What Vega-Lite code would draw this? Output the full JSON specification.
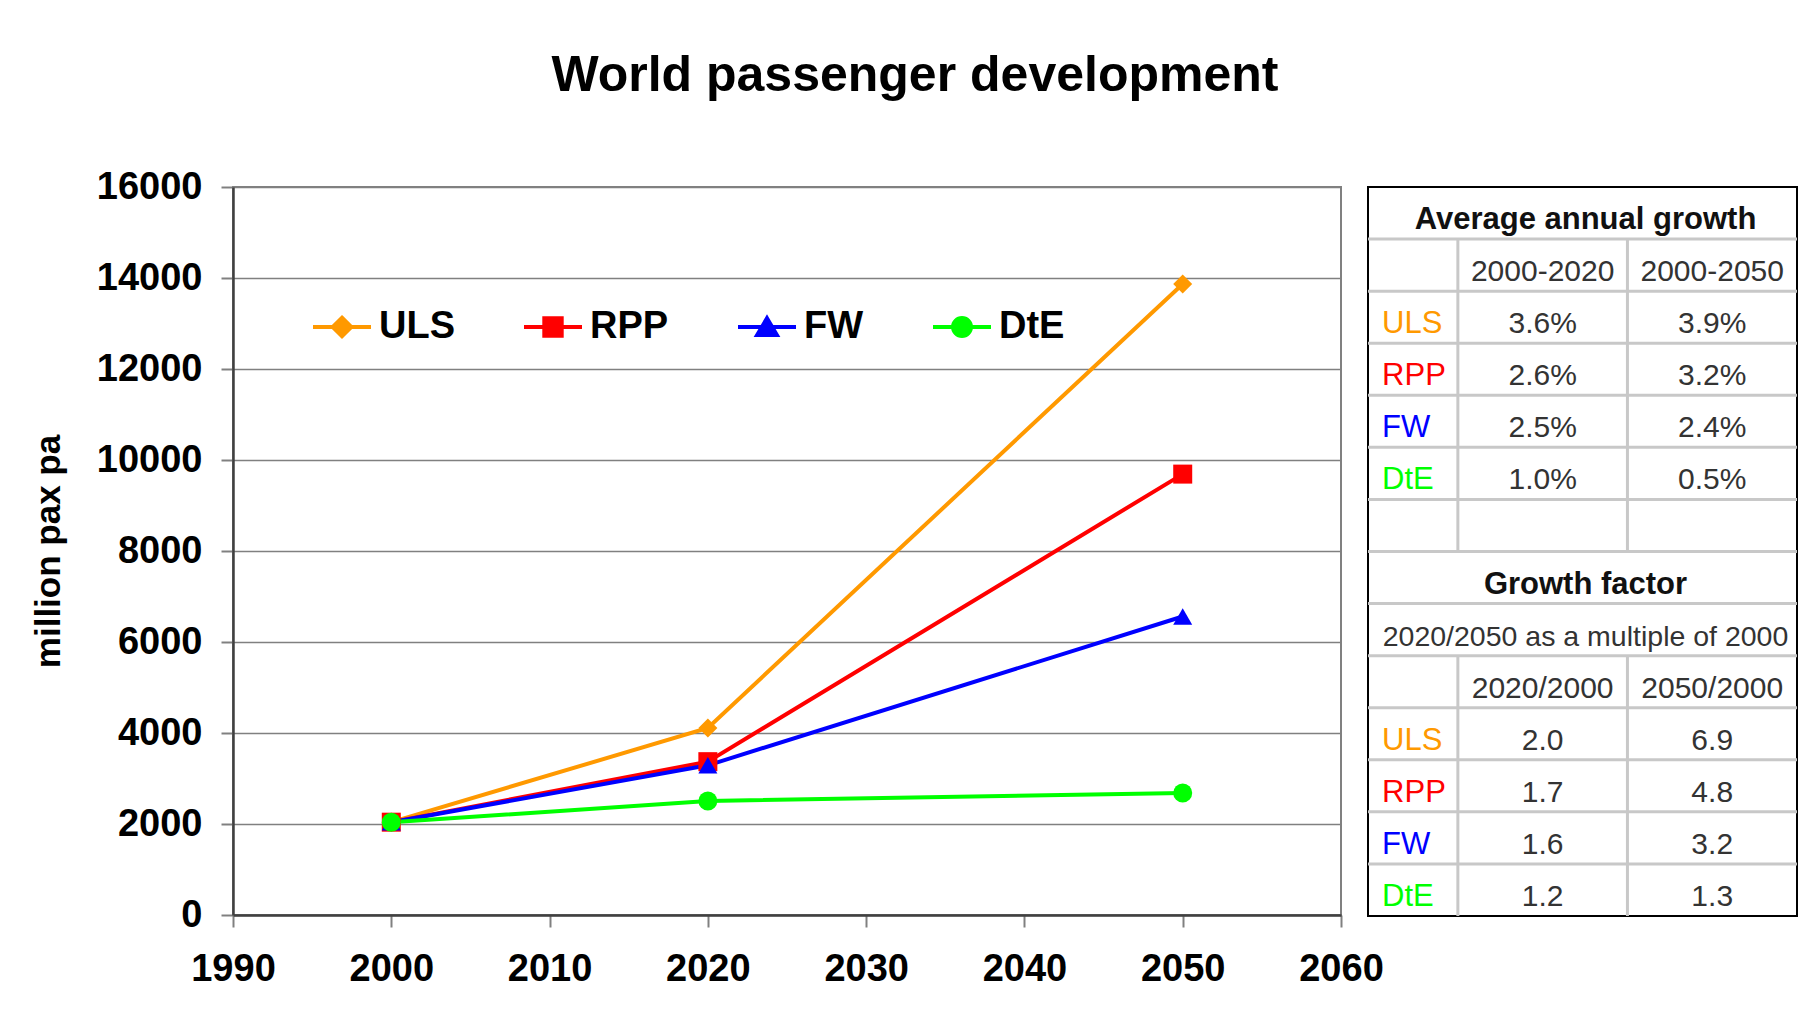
{
  "$schema": "https://vega.github.io/schema/vega-lite/v6.json",
  "autosize": {"type": "pad"},
  "padding": {"left": 30, "top": 51, "right": 19, "bottom": 29},
  "background": "white",
  "title": {
    "text": "World passenger development",
    "fontSize": 50,
    "fontWeight": "bold",
    "font": "Liberation Sans",
    "color": "#000000",
    "anchor": "middle",
    "offset": 66
  },
  "bounds": "flush",
  "spacing": 27,
  "datasets": {
    "passengers": [
      {"series": "ULS", "year": 2000, "pax": 2040},
      {"series": "ULS", "year": 2020, "pax": 4110},
      {"series": "ULS", "year": 2050, "pax": 13870},
      {"series": "RPP", "year": 2000, "pax": 2040},
      {"series": "RPP", "year": 2020, "pax": 3370},
      {"series": "RPP", "year": 2050, "pax": 9690},
      {"series": "FW", "year": 2000, "pax": 2040},
      {"series": "FW", "year": 2020, "pax": 3290},
      {"series": "FW", "year": 2050, "pax": 6560},
      {"series": "DtE", "year": 2000, "pax": 2040},
      {"series": "DtE", "year": 2020, "pax": 2505},
      {"series": "DtE", "year": 2050, "pax": 2680}
    ],
    "tableText": [
      {"row": 0, "kind": "heading", "text": "Average annual growth"},
      {"row": 1, "col": 1, "kind": "value", "text": "2000-2020"},
      {"row": 1, "col": 2, "kind": "value", "text": "2000-2050"},
      {"row": 2, "col": 0, "kind": "label", "series": "ULS", "text": "ULS"},
      {"row": 2, "col": 1, "kind": "value", "text": "3.6%"},
      {"row": 2, "col": 2, "kind": "value", "text": "3.9%"},
      {"row": 3, "col": 0, "kind": "label", "series": "RPP", "text": "RPP"},
      {"row": 3, "col": 1, "kind": "value", "text": "2.6%"},
      {"row": 3, "col": 2, "kind": "value", "text": "3.2%"},
      {"row": 4, "col": 0, "kind": "label", "series": "FW", "text": "FW"},
      {"row": 4, "col": 1, "kind": "value", "text": "2.5%"},
      {"row": 4, "col": 2, "kind": "value", "text": "2.4%"},
      {"row": 5, "col": 0, "kind": "label", "series": "DtE", "text": "DtE"},
      {"row": 5, "col": 1, "kind": "value", "text": "1.0%"},
      {"row": 5, "col": 2, "kind": "value", "text": "0.5%"},
      {"row": 7, "kind": "heading", "text": "Growth factor"},
      {"row": 8, "kind": "note", "text": "2020/2050 as a multiple of 2000"},
      {"row": 9, "col": 1, "kind": "value", "text": "2020/2000"},
      {"row": 9, "col": 2, "kind": "value", "text": "2050/2000"},
      {"row": 10, "col": 0, "kind": "label", "series": "ULS", "text": "ULS"},
      {"row": 10, "col": 1, "kind": "value", "text": "2.0"},
      {"row": 10, "col": 2, "kind": "value", "text": "6.9"},
      {"row": 11, "col": 0, "kind": "label", "series": "RPP", "text": "RPP"},
      {"row": 11, "col": 1, "kind": "value", "text": "1.7"},
      {"row": 11, "col": 2, "kind": "value", "text": "4.8"},
      {"row": 12, "col": 0, "kind": "label", "series": "FW", "text": "FW"},
      {"row": 12, "col": 1, "kind": "value", "text": "1.6"},
      {"row": 12, "col": 2, "kind": "value", "text": "3.2"},
      {"row": 13, "col": 0, "kind": "label", "series": "DtE", "text": "DtE"},
      {"row": 13, "col": 1, "kind": "value", "text": "1.2"},
      {"row": 13, "col": 2, "kind": "value", "text": "1.3"}
    ],
    "tableLines": [
      {"edge": 1}, {"edge": 2}, {"edge": 3}, {"edge": 4}, {"edge": 5}, {"edge": 6}, {"edge": 7},
      {"edge": 8}, {"edge": 9}, {"edge": 10}, {"edge": 11}, {"edge": 12}, {"edge": 13}
    ],
    "tableDividers": [
      {"edge": 0.5, "top": 1, "bottom": 7},
      {"edge": 1.5, "top": 1, "bottom": 7},
      {"edge": 0.5, "top": 9, "bottom": 14},
      {"edge": 1.5, "top": 9, "bottom": 14}
    ]
  },
  "hconcat": [
    {
      "width": 1108,
      "height": 728,
      "view": {"stroke": "#808080", "strokeWidth": 2},
      "data": {"name": "passengers"},
      "encoding": {
        "x": {
          "field": "year",
          "type": "quantitative",
          "scale": {"domain": [1990, 2060], "nice": false, "zero": false},
          "axis": {
            "values": [1990, 2000, 2010, 2020, 2030, 2040, 2050, 2060],
            "format": "d",
            "title": null,
            "grid": false,
            "labelPadding": 23,
            "labelFlush": false,
            "labelOverlap": false
          }
        },
        "y": {
          "field": "pax",
          "type": "quantitative",
          "scale": {"domain": [0, 16000], "nice": false},
          "axis": {
            "values": [0, 2000, 4000, 6000, 8000, 10000, 12000, 14000, 16000],
            "format": "d",
            "title": "million pax pa",
            "grid": true,
            "labelPadding": 19,
            "titlePadding": 30,
            "labelOverlap": false
          }
        }
      },
      "layer": [
        {
          "mark": {"type": "line", "strokeWidth": 4},
          "encoding": {
            "stroke": {
              "field": "series",
              "type": "nominal",
              "scale": {
                "domain": ["ULS", "RPP", "FW", "DtE"],
                "range": ["#ff9900", "#ff0000", "#0000ff", "#00ff00"]
              },
              "legend": null
            }
          }
        },
        {
          "mark": {"type": "point", "filled": true, "size": 361, "opacity": 1},
          "encoding": {
            "fill": {
              "field": "series",
              "type": "nominal",
              "scale": {
                "domain": ["ULS", "RPP", "FW", "DtE"],
                "range": ["#ff9900", "#ff0000", "#0000ff", "#00ff00"]
              },
              "legend": null
            },
            "shape": {
              "field": "series",
              "type": "nominal",
              "scale": {
                "domain": ["ULS", "RPP", "FW", "DtE"],
                "range": ["diamond", "square", "triangle-up", "circle"]
              },
              "legend": null
            }
          }
        },
        {
          "description": "Legend key: each series shown as its line with its marker",
          "mark": {"type": "point", "filled": true, "size": 0, "opacity": 1},
          "encoding": {
            "fill": {
              "field": "series",
              "type": "nominal",
              "scale": {
                "domain": ["ULS", "RPP", "FW", "DtE"],
                "range": ["#ff9900", "#ff0000", "#0000ff", "#00ff00"]
              },
              "legend": {
                "orient": "none",
                "legendX": 78,
                "legendY": 109,
                "direction": "horizontal",
                "title": null,
                "symbolSize": 3364,
                "symbolStrokeWidth": 4,
                "symbolOpacity": 1,
                "labelOffset": 6,
                "columnPadding": 61,
                "padding": 0
              }
            },
            "stroke": {
              "field": "series",
              "type": "nominal",
              "scale": {
                "domain": ["ULS", "RPP", "FW", "DtE"],
                "range": ["#ff9900", "#ff0000", "#0000ff", "#00ff00"]
              },
              "legend": {
                "orient": "none",
                "legendX": 78,
                "legendY": 109,
                "direction": "horizontal",
                "title": null,
                "symbolSize": 3364,
                "symbolStrokeWidth": 4,
                "symbolOpacity": 1,
                "labelOffset": 6,
                "columnPadding": 61,
                "padding": 0
              }
            },
            "shape": {
              "field": "series",
              "type": "nominal",
              "scale": {
                "domain": ["ULS", "RPP", "FW", "DtE"],
                "range": [
                  "M-1,0H1M0,-0.32L0.32,0L0,0.32L-0.32,0Z",
                  "M-1,0H1M-0.3,-0.3H0.3V0.3H-0.3Z",
                  "M-1,0H1M0,-0.3L0.34,0.28L-0.34,0.28Z",
                  "M-1,0H1M0.31,0A0.31,0.31,0,1,1,-0.31,0A0.31,0.31,0,1,1,0.31,0Z"
                ]
              },
              "legend": {
                "orient": "none",
                "legendX": 78,
                "legendY": 109,
                "direction": "horizontal",
                "title": null,
                "symbolSize": 3364,
                "symbolStrokeWidth": 4,
                "symbolOpacity": 1,
                "labelOffset": 6,
                "columnPadding": 61,
                "padding": 0
              }
            }
          }
        }
      ],
      "resolve": {"scale": {"fill": "independent", "stroke": "independent", "shape": "independent"}}
    },
    {
      "width": 429,
      "height": 729,
      "view": {"stroke": "#000000", "strokeWidth": 2},
      "layer": [
        {
          "data": {"name": "tableLines"},
          "mark": {"type": "rule", "color": "#c8c8c8", "strokeWidth": 3},
          "encoding": {
            "y": {
              "field": "edge",
              "type": "quantitative",
              "scale": {"domain": [0, 14], "reverse": true, "nice": false, "zero": false},
              "axis": null
            }
          }
        },
        {
          "data": {"name": "tableDividers"},
          "mark": {"type": "rule", "color": "#c8c8c8", "strokeWidth": 3},
          "encoding": {
            "x": {
              "field": "edge",
              "type": "quantitative",
              "scale": {"domain": [-0.03, 2.5], "nice": false, "zero": false},
              "axis": null
            },
            "y": {
              "field": "top",
              "type": "quantitative",
              "scale": {"domain": [0, 14], "reverse": true, "nice": false, "zero": false},
              "axis": null
            },
            "y2": {"field": "bottom"}
          }
        },
        {
          "data": {"name": "tableText"},
          "transform": [{"filter": "datum.kind === 'heading'"}],
          "mark": {
            "type": "text",
            "dx": 3,
            "dy": 7,
            "fontSize": 31,
            "fontWeight": "bold",
            "color": "#111111",
            "baseline": "middle",
            "align": "center"
          },
          "encoding": {
            "x": {
              "datum": 1.235,
              "type": "quantitative",
              "scale": {"domain": [-0.03, 2.5], "nice": false, "zero": false},
              "axis": null
            },
            "y": {
              "field": "row",
              "type": "ordinal",
              "scale": {"type": "point", "domain": [0, 1, 2, 3, 4, 5, 6, 7, 8, 9, 10, 11, 12, 13], "padding": 0.5},
              "axis": null
            },
            "text": {"field": "text"}
          }
        },
        {
          "data": {"name": "tableText"},
          "transform": [{"filter": "datum.kind === 'note'"}],
          "mark": {
            "type": "text",
            "dx": 3,
            "dy": 7,
            "fontSize": 28.5,
            "color": "#333333",
            "baseline": "middle",
            "align": "center"
          },
          "encoding": {
            "x": {
              "datum": 1.235,
              "type": "quantitative",
              "scale": {"domain": [-0.03, 2.5], "nice": false, "zero": false},
              "axis": null
            },
            "y": {
              "field": "row",
              "type": "ordinal",
              "scale": {"type": "point", "domain": [0, 1, 2, 3, 4, 5, 6, 7, 8, 9, 10, 11, 12, 13], "padding": 0.5},
              "axis": null
            },
            "text": {"field": "text"}
          }
        },
        {
          "data": {"name": "tableText"},
          "transform": [{"filter": "datum.kind === 'value'"}],
          "mark": {"type": "text", "dy": 7, "fontSize": 30, "color": "#333333", "baseline": "middle", "align": "center"},
          "encoding": {
            "x": {
              "field": "col",
              "type": "quantitative",
              "scale": {"domain": [-0.03, 2.5], "nice": false, "zero": false},
              "axis": null
            },
            "y": {
              "field": "row",
              "type": "ordinal",
              "scale": {"type": "point", "domain": [0, 1, 2, 3, 4, 5, 6, 7, 8, 9, 10, 11, 12, 13], "padding": 0.5},
              "axis": null
            },
            "text": {"field": "text"}
          }
        },
        {
          "data": {"name": "tableText"},
          "transform": [{"filter": "datum.kind === 'label'"}],
          "mark": {"type": "text", "dx": 9, "dy": 7, "fontSize": 31, "baseline": "middle", "align": "left"},
          "encoding": {
            "x": {
              "field": "col",
              "type": "quantitative",
              "scale": {"domain": [-0.03, 2.5], "nice": false, "zero": false},
              "axis": null
            },
            "y": {
              "field": "row",
              "type": "ordinal",
              "scale": {"type": "point", "domain": [0, 1, 2, 3, 4, 5, 6, 7, 8, 9, 10, 11, 12, 13], "padding": 0.5},
              "axis": null
            },
            "color": {
              "field": "series",
              "type": "nominal",
              "scale": {
                "domain": ["ULS", "RPP", "FW", "DtE"],
                "range": ["#ff9900", "#ff0000", "#0000ff", "#00ff00"]
              },
              "legend": null
            },
            "text": {"field": "text"}
          }
        }
      ],
      "resolve": {"scale": {"y": "independent"}}
    }
  ],
  "resolve": {
    "scale": {"stroke": "independent", "fill": "independent", "shape": "independent", "color": "independent"}
  },
  "config": {
    "font": "Liberation Sans",
    "axis": {
      "labelFont": "Liberation Sans",
      "labelFontSize": 38,
      "labelFontWeight": "bold",
      "labelColor": "#000000",
      "tickColor": "#808080",
      "tickSize": 12,
      "tickWidth": 2,
      "domainColor": "#404040",
      "domainWidth": 2.5,
      "gridColor": "#808080",
      "gridWidth": 1.5,
      "gridOpacity": 1,
      "titleFont": "Liberation Sans",
      "titleFontSize": 35,
      "titleFontWeight": "bold",
      "titleColor": "#000000"
    },
    "legend": {
      "labelFont": "Liberation Sans",
      "labelFontSize": 38,
      "labelFontWeight": "bold",
      "labelColor": "#000000"
    },
    "text": {"font": "Liberation Sans"}
  }
}
